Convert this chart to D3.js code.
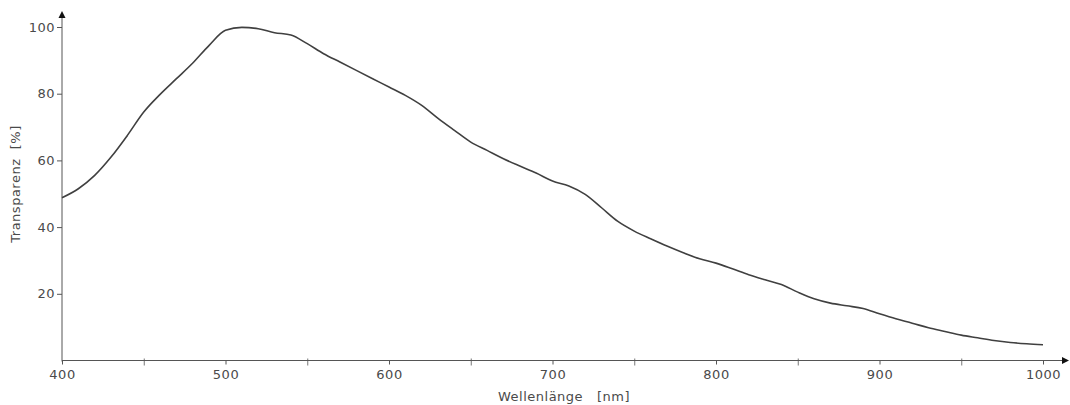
<!DOCTYPE html>
<html><head><meta charset="utf-8">
<script src="https://cdn.jsdelivr.net/npm/d3@7"></script>
<style>
html,body{margin:0;padding:0;background:#fff;}
svg{display:block;}
text{font-family:"DejaVu Sans",Verdana,sans-serif;fill:#4a4a4a;letter-spacing:0.5px;}
</style></head>
<body>
<svg id="chart" width="1070" height="405"></svg>
<script>
const wavelengths = [400,410,420,430,440,450,460,470,480,490,500,510,520,530,540,550,560,570,580,590,600,610,620,630,640,650,660,670,680,690,700,710,720,730,740,750,760,770,780,790,800,810,820,830,840,850,860,870,880,890,900,910,920,930,940,950,960,970,980,990,1000];
const transparency = [48.8,51.5,55.5,61,67.5,74.5,79.8,84.5,89.2,94.5,99,99.9,99.5,98.3,97.6,95,92,89.5,87,84.5,82,79.5,76.5,72.6,69,65.5,63,60.5,58.3,56.2,53.8,52.3,49.8,45.8,41.7,38.8,36.5,34.3,32.3,30.5,29.2,27.5,25.7,24.2,22.8,20.5,18.5,17.2,16.4,15.6,14,12.5,11.2,9.8,8.7,7.6,6.8,6.0,5.4,5.0,4.7];
const xMajorTicks = [400,500,600,700,800,900,1000];
const xMinorTicks = [450,550,650,750,850,950];
const yTicks = [20,40,60,80,100];
const xTitle = "Wellenlänge   [nm]";
const yTitle = "Transparenz  [%]";

const svg = d3.select("#chart");
const x = d3.scaleLinear().domain([400,1000]).range([62,1043]);
const y = d3.scaleLinear().domain([0,100]).range([360.5,27]);
const axisColor = "#555";
const font = "'DejaVu Sans',Verdana,sans-serif";

// x axis
const gx = svg.append("g").attr("transform",`translate(0,${y(0)})`);
gx.call(d3.axisBottom(x).tickValues(xMajorTicks).tickSize(4).tickPadding(5).tickFormat(d3.format("d")));
gx.select(".domain").remove();
gx.selectAll(".tick line").attr("stroke",axisColor);
gx.selectAll(".tick text").attr("font-size",13).attr("fill","#4a4a4a").style("font-family",font);
const gxm = svg.append("g").attr("transform",`translate(0,${y(0)})`);
gxm.call(d3.axisBottom(x).tickValues(xMinorTicks).tickSize(5).tickFormat(""));
gxm.select(".domain").remove();
gxm.selectAll(".tick line").attr("stroke","#777").attr("y1",-2);
svg.append("line").attr("x1",x(400)).attr("x2",1064).attr("y1",y(0)).attr("y2",y(0)).attr("stroke",axisColor).attr("stroke-width",1);
svg.append("path").attr("d",`M1069,${y(0)} l-7,-3.5 l0,7 z`).attr("fill","#111");

// y axis
const gy = svg.append("g").attr("transform",`translate(${x(400)},0)`);
gy.call(d3.axisLeft(y).tickValues(yTicks).tickSize(5).tickPadding(2).tickFormat(d3.format("d")));
gy.select(".domain").remove();
gy.selectAll(".tick line").attr("stroke",axisColor);
gy.selectAll(".tick text").attr("font-size",13).attr("fill","#4a4a4a").style("font-family",font);
svg.append("line").attr("x1",x(400)).attr("x2",x(400)).attr("y1",y(0)+1).attr("y2",17).attr("stroke",axisColor).attr("stroke-width",1);
svg.append("path").attr("d",`M${x(400)},11 l-3.5,7 l7,0 z`).attr("fill","#111");

// titles
svg.append("text").attr("x",564).attr("y",401).attr("text-anchor","middle").attr("font-size",13).style("white-space","pre").text(xTitle);
svg.append("text").attr("transform","translate(20,184) rotate(-90)").attr("text-anchor","middle").attr("font-size",13).style("white-space","pre").text(yTitle);

// curve
const line = d3.line().x((d,i)=>x(wavelengths[i])).y(d=>y(d)).curve(d3.curveMonotoneX);
svg.append("path").datum(transparency).attr("d",line).attr("fill","none").attr("stroke","#404040").attr("stroke-width",1.6);
</script>
</body></html>
